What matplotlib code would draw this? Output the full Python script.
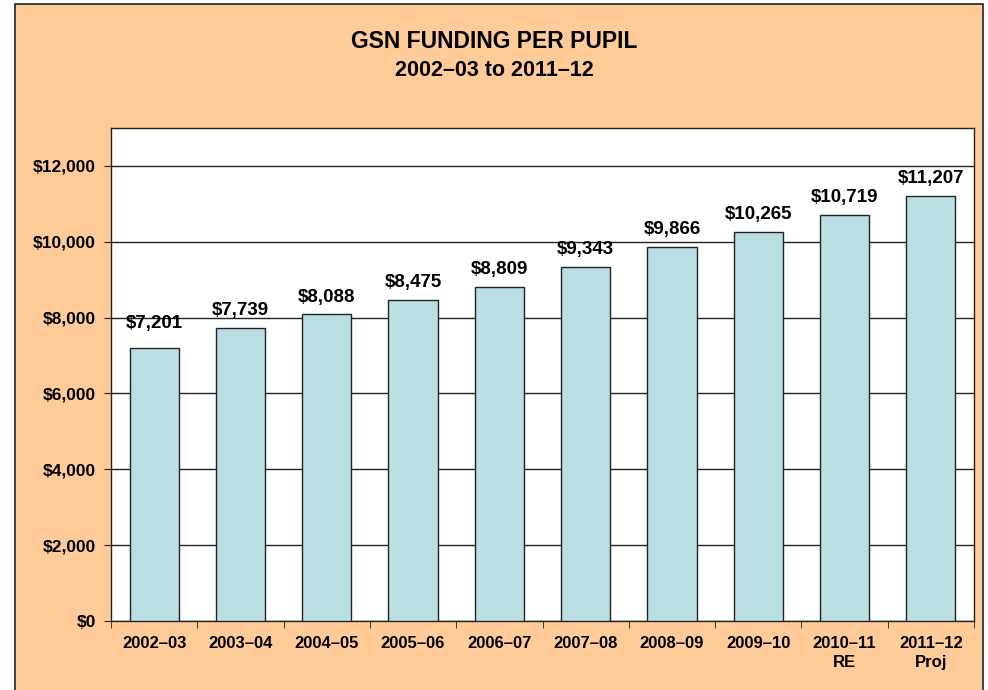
import matplotlib
matplotlib.use("Agg")
import matplotlib.pyplot as plt
from matplotlib.patches import Rectangle
from matplotlib.ticker import FuncFormatter, MultipleLocator

years = ["2002–03", "2003–04", "2004–05", "2005–06", "2006–07",
         "2007–08", "2008–09", "2009–10", "2010–11\nRE", "2011–12\nProj"]
funding = [7201, 7739, 8088, 8475, 8809, 9343, 9866, 10265, 10719, 11207]

plt.rcParams['font.family'] = ['Liberation Sans', 'DejaVu Sans']
plt.rcParams['font.weight'] = 'bold'

peach = "#FFCC99"
bar_color = "#BADFE2"

fig = plt.figure(figsize=(9.88, 6.9), dpi=100)
fig.patch.set_facecolor("white")
# рамка с персиковым фоном
frame = Rectangle((15 / 988, -0.01), 968 / 988, 1 - 4 / 690 + 0.01,
                  transform=fig.transFigure, facecolor=peach,
                  edgecolor="#222222", linewidth=1.2, zorder=-10)
fig.patches.append(frame)

ax = fig.add_axes([111 / 988, 69 / 690, 863 / 988, 493 / 690])
ax.set_facecolor("white")

x = range(len(years))
bars = ax.bar(x, funding, width=0.57, color=bar_color, edgecolor="#222222",
              linewidth=1.0, zorder=3)

for i, (bar, val) in enumerate(zip(bars, funding)):
    # первая подпись в оригинале стоит чуть выше
    off = 14 if i == 0 else 9
    ax.annotate(f"${val:,}", (bar.get_x() + bar.get_width() / 2, val),
                xytext=(0, off), textcoords="offset points",
                ha="center", va="baseline", fontsize=13.5, fontweight="bold",
                zorder=4)

ax.set_xlim(-0.5, len(years) - 0.5)
ax.set_ylim(0, 13000)
ax.yaxis.set_major_locator(MultipleLocator(2000))
ax.yaxis.set_major_formatter(FuncFormatter(lambda v, p: f"${int(v):,}"))
ax.yaxis.grid(True, color="#222222", linewidth=1.0, zorder=1)
ax.set_axisbelow(True)

ax.set_xticks(list(x))
ax.set_xticklabels(years, fontsize=12, fontweight="bold", linespacing=1.35)
ax.set_xticks([i - 0.5 for i in range(len(years) + 1)], minor=True)
ax.tick_params(axis="x", which="major", length=0, pad=11)
ax.tick_params(axis="x", which="minor", length=5, direction="out", color="#222222")
ax.tick_params(axis="y", length=5, direction="out", labelsize=12.5, pad=6,
               color="#222222")
for lbl in ax.get_yticklabels():
    lbl.set_fontweight("bold")

for side in ["top", "right", "left", "bottom"]:
    ax.spines[side].set_color("#222222")
    ax.spines[side].set_linewidth(1.0)

fig.text(0.5, 1 - 42 / 690, "GSN FUNDING PER PUPIL", ha="center", va="center",
         fontsize=16.5, fontweight="bold")
fig.text(0.5, 1 - 70 / 690, "2002–03 to 2011–12", ha="center", va="center",
         fontsize=15.5, fontweight="bold")

fig.savefig("out.png", dpi=100, facecolor=fig.get_facecolor())
